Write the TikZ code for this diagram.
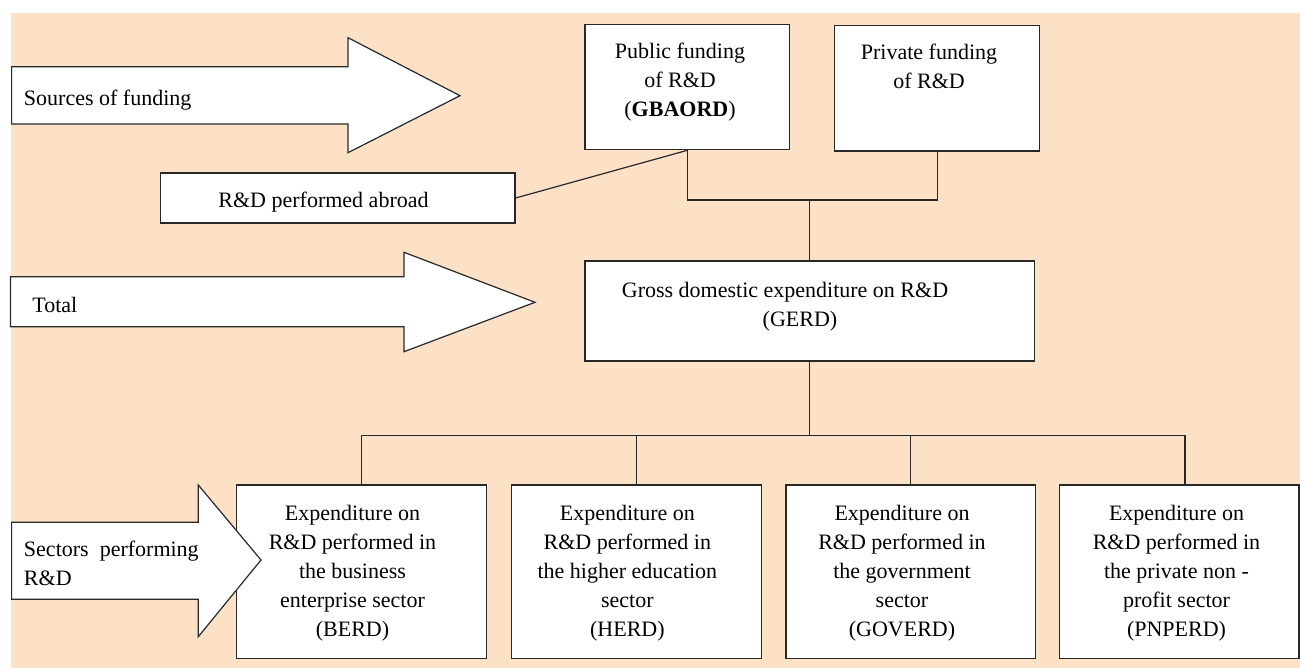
\documentclass[tikz,border=0pt]{standalone}
\usepackage{fontspec}
\setmainfont{Liberation Serif}
\definecolor{peach}{RGB}{252,225,199}
\definecolor{ink}{RGB}{40,40,40}
\newcommand{\mlines}[1]{\begin{tabular}[t]{@{}c@{}}#1\end{tabular}}
\newcommand{\llines}[1]{\begin{tabular}[t]{@{}l@{}}#1\end{tabular}}
\begin{document}
\begin{tikzpicture}[x=0.5pt,y=-0.5pt,
  box/.style={draw=ink, fill=white, line width=0.6pt, rectangle, inner sep=0pt},
  bigarrow/.style={draw=ink, fill=white, line width=0.6pt, line join=miter},
  conn/.style={draw=ink, line width=0.6pt},
  txt/.style={inner sep=0pt, font=\fontsize{11}{14.5}\selectfont}]
\useasboundingbox (0,0) rectangle (1300,668);
\fill[peach] (11,13) rectangle (1300,668);

% boxes
\node[box, minimum width=102.35pt, minimum height=62.7pt] (pub) at (687.4,87) {};
\node[box, minimum width=102.6pt, minimum height=62.65pt] (priv) at (937.1,88.35) {};
\node[box, minimum width=177.3pt, minimum height=25pt] (abroad) at (337.7,198) {};
\node[box, minimum width=224.65pt, minimum height=50pt] (gerd) at (809.65,311) {};
\node[box, minimum width=125.2pt, minimum height=86.75pt] (berd) at (361.5,571.75) {};
\node[box, minimum width=125.2pt, minimum height=86.75pt] (herd) at (636.35,571.75) {};
\node[box, minimum width=124.6pt, minimum height=86.75pt] (goverd) at (910.6,571.75) {};
\node[box, minimum width=119.7pt, minimum height=86.75pt] (pnperd) at (1179.3,571.75) {};

% connectors
\coordinate (jtop) at (809.65,200);
\coordinate (jbus) at (809.65,435.7);
\coordinate (pnptop) at (1185,485);
\draw[conn] (abroad.east) -- (pub.south);
\draw[conn] (pub.south) |- (jtop) -| (priv.south);
\draw[conn] (jtop) -- (gerd.north);
\draw[conn] (gerd.south) -- (jbus);
\draw[conn] (berd.north) |- (jbus) -| (pnptop);
\draw[conn] (herd.north) -- (herd.north |- jbus);
\draw[conn] (goverd.north) -- (goverd.north |- jbus);

% big arrows
\draw[bigarrow] (11.6,66.7) -- (348,66.7) -- (348,37.7) -- (460,95.7) -- (348,152.7) -- (348,124) -- (11.6,124) -- cycle;
\draw[bigarrow] (10.4,276.7) -- (404,276.7) -- (404,252.3) -- (535,302.3) -- (404,351.7) -- (404,326.7) -- (10.4,326.7) -- cycle;
\draw[bigarrow] (11.6,522.3) -- (198.3,522.3) -- (198.3,485) -- (261,560) -- (198.3,636.7) -- (198.3,599.3) -- (11.6,599.3) -- cycle;

% texts
\node[txt, anchor=base west] (tsrc) at (23.6,106) {Sources of funding};
\node[txt, anchor=base west] (ttot) at (32,312) {Total};
\node[txt, anchor=base west] (tsec) at (23.6,556.7) {\llines{Sectors\ \ performing\\R\&D}};
\node[txt, anchor=base] (tpub) at (680,58.3) {\mlines{Public funding\\of R\&D\\(\textbf{GBAORD})}};
\node[txt, anchor=base] (tpriv) at (929,60) {\mlines{Private funding\\of R\&D}};
\node[txt, anchor=base] (tabr) at (323.5,207.3) {R\&D performed abroad};
\node[txt, anchor=base] (tgerd1) at (785,297) {Gross domestic expenditure on R\&D};
\node[txt, anchor=base] (tgerd2) at (800,326) {(GERD)};
\node[txt, anchor=base] (tberd) at (352.5,520) {\mlines{Expenditure on\\R\&D performed in\\the business\\enterprise sector\\(BERD)}};
\node[txt, anchor=base] (therd) at (627.4,520) {\mlines{Expenditure on\\R\&D performed in\\the higher education\\sector\\(HERD)}};
\node[txt, anchor=base] (tgov) at (902,520) {\mlines{Expenditure on\\R\&D performed in\\the government\\sector\\(GOVERD)}};
\node[txt, anchor=base] (tpnp) at (1176.5,520) {\mlines{Expenditure on\\R\&D performed in\\the private non -\\profit sector\\(PNPERD)}};
\end{tikzpicture}
\end{document}
